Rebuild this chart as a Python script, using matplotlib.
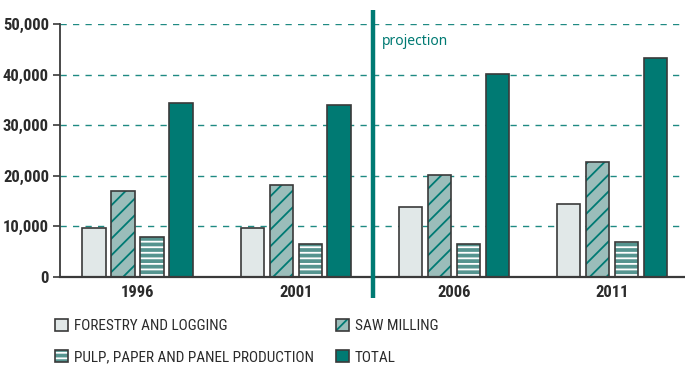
import matplotlib
matplotlib.use("Agg")
import matplotlib.pyplot as plt
from matplotlib.patches import Patch
from matplotlib.transforms import blended_transform_factory
import numpy as np

years = ["1996", "2001", "2006", "2011"]
series_names = ["FORESTRY AND LOGGING", "SAW MILLING",
                "PULP, PAPER AND PANEL PRODUCTION", "TOTAL"]
forestry = [9700, 9700, 13900, 14400]
saw_milling = [17000, 18200, 20200, 22800]
pulp_paper = [8000, 6500, 6500, 7000]
total = [34400, 33900, 40200, 43300]
y_ticks = [0, 10000, 20000, 30000, 40000, 50000]

TEAL = "#007a73"
EDGE = "#3a3a3a"
NARROW = ["Roboto Condensed", "Liberation Sans Narrow", "DejaVu Sans"]

plt.rcParams["hatch.linewidth"] = 1.3

fig = plt.figure(figsize=(6.85, 3.67), dpi=100)
ax = fig.add_axes([60 / 685, 90 / 367, 625 / 685, 253 / 367])

x = np.arange(len(years))
pitch = 0.183
width = 0.148

styles = [
    dict(fill="#e1e8e8", hatch=None, hatch_col=None),
    dict(fill="#9bbdba", hatch="//", hatch_col=TEAL),
    dict(fill="#55948f", hatch="---", hatch_col="white"),
    dict(fill=TEAL, hatch=None, hatch_col=None),
]
data = [forestry, saw_milling, pulp_paper, total]

handles = []
for i, (vals, st) in enumerate(zip(data, styles)):
    pos = x + (i - 1.5) * pitch
    if st["hatch"]:
        ax.bar(pos, vals, width, color=st["fill"], edgecolor=st["hatch_col"],
               hatch=st["hatch"], linewidth=0, zorder=3)
        ax.bar(pos, vals, width, fill=False, edgecolor=EDGE, linewidth=1.2,
               zorder=4)
        h = (Patch(facecolor=st["fill"], edgecolor=st["hatch_col"],
                   hatch=st["hatch"], linewidth=0),
             Patch(fill=False, edgecolor=EDGE, linewidth=1.2))
    else:
        ax.bar(pos, vals, width, color=st["fill"], edgecolor=EDGE,
               linewidth=1.2, zorder=3)
        h = Patch(facecolor=st["fill"], edgecolor=EDGE, linewidth=1.2)
    handles.append(h)

ax.set_xlim(-0.49, 3.46)
ax.set_ylim(0, 50000)
ax.set_yticks(y_ticks)
ax.set_yticklabels([f"{v:,}" for v in y_ticks], family=NARROW,
                   fontstretch="condensed", fontweight="bold", fontsize=12,
                   color="#2b2b2b")
ax.set_xticks(x)
ax.set_xticklabels(years, family=NARROW, fontstretch="condensed",
                   fontweight="bold", fontsize=12, color="#2b2b2b")
ax.tick_params(axis="x", length=0, pad=6)
ax.tick_params(axis="y", length=5, width=1.2, color=EDGE, pad=3)

for v in y_ticks[1:]:
    ax.axhline(v, color="#1f8a83", linestyle=(0, (4.5, 4.5)), linewidth=1.0,
               zorder=1)

for side in ("top", "right"):
    ax.spines[side].set_visible(False)
ax.spines["left"].set_color(EDGE)
ax.spines["left"].set_linewidth(1.3)
ax.spines["bottom"].set_color(EDGE)
ax.spines["bottom"].set_linewidth(1.6)
ax.spines["bottom"].set_zorder(5)

# divider between recorded and projected years
trans = blended_transform_factory(ax.transData, ax.transAxes)
ax.plot([1.49, 1.49], [-0.083, 1.055], color=TEAL, linewidth=3.2,
        transform=trans, clip_on=False, zorder=6, solid_capstyle="butt")
ax.text(1.545, 0.93, "projection", transform=trans, color=TEAL,
        fontsize=10, family=["Noto Sans", "DejaVu Sans"], va="center",
        ha="left")

order = [0, 2, 1, 3]
leg = fig.legend([handles[i] for i in order], [series_names[i] for i in order],
                 ncol=2, loc="upper left",
                 bbox_to_anchor=(49 / 685, 1 - 313 / 367),
                 borderaxespad=0, borderpad=0.4,
                 frameon=False, handlelength=0.85, handleheight=0.85,
                 handletextpad=0.4, columnspacing=1.4, labelspacing=1.1,
                 prop=dict(family=NARROW, stretch="condensed", size=11))
for t in leg.get_texts():
    t.set_color("#2b2b2b")

fig.savefig("out.png", dpi=100)
